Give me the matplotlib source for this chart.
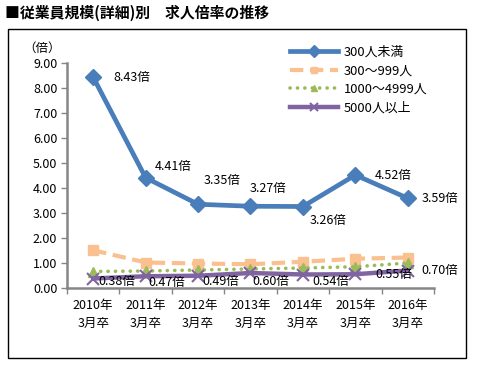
import matplotlib
matplotlib.use("Agg")
import matplotlib.pyplot as plt
from matplotlib.patches import Rectangle

plt.rcParams['font.family'] = ['Noto Sans CJK JP', 'DejaVu Sans']

years = ["2010年\n3月卒", "2011年\n3月卒", "2012年\n3月卒", "2013年\n3月卒",
         "2014年\n3月卒", "2015年\n3月卒", "2016年\n3月卒"]
s_lt300 = [8.43, 4.41, 3.35, 3.27, 3.26, 4.52, 3.59]
s_300_999 = [1.51, 1.02, 0.98, 0.95, 1.05, 1.17, 1.22]
s_1000_4999 = [0.66, 0.68, 0.72, 0.76, 0.80, 0.85, 1.00]
s_5000 = [0.38, 0.47, 0.49, 0.60, 0.54, 0.55, 0.70]
names = ["300人未満", "300～999人", "1000～4999人", "5000人以上"]
yticks = [0, 1, 2, 3, 4, 5, 6, 7, 8, 9]

W, H = 480, 369
fig = plt.figure(figsize=(W / 100, H / 100), dpi=100)
ax = fig.add_axes([67 / W, 1 - 288 / H, (434 - 67) / W, (288 - 63) / H])

x = list(range(len(years)))
c_blue = "#4A7EBB"
c_orange = "#FAC090"
c_green = "#9BBB59"
c_purple = "#8064A2"

l1, = ax.plot(x, s_lt300, color=c_blue, lw=3.4, marker="D", ms=8.5, zorder=5)
l2, = ax.plot(x, s_300_999, color=c_orange, lw=3.0, ls=(0, (3.2, 1.6)),
              marker="s", ms=6.5, zorder=3)
l3, = ax.plot(x, s_1000_4999, color=c_green, lw=2.6, ls=(0, (0.05, 2.0)),
              dash_capstyle="round", marker="^", ms=6.5, zorder=3)
l4, = ax.plot(x, s_5000, color=c_purple, lw=3.2, marker="x", ms=9, mew=1.5,
              zorder=4)

ax.set_xlim(-0.5, len(years) - 0.5)
ax.set_ylim(0, 9)
ax.set_yticks(yticks)
ax.set_yticklabels([f"{v:.2f}" for v in yticks], fontsize=9)
ax.set_xticks(x)
ax.set_xticklabels(years, fontsize=9, linespacing=1.5)
ax.set_xticks([i - 0.5 for i in range(len(years) + 1)], minor=True)
ax.tick_params(axis="x", which="major", length=0, pad=8)
ax.tick_params(axis="x", which="minor", length=4, color="#868686", width=1)
ax.tick_params(axis="y", length=4, color="#868686", width=1, pad=3)
for s in ["top", "right"]:
    ax.spines[s].set_visible(False)
for s in ["left", "bottom"]:
    ax.spines[s].set_color("#868686")
    ax.spines[s].set_linewidth(1.8)
ax.patch.set_alpha(0)

off_blue = [(20, 0), (9, 11), (6, 24), (-1, 18), (7, -14), (19, 0), (14, 0)]
for xi, v, (dx, dy) in zip(x, s_lt300, off_blue):
    ax.annotate(f"{v:.2f}倍", (xi, v), xytext=(dx, dy), textcoords="offset pixels",
                ha="left", va="center", fontsize=9, zorder=6)
off_purple = [(5, -3), (3, -6), (4, -6), (2, -8), (9, -7), (20, 0), (14, 0)]
for xi, v, (dx, dy) in zip(x, s_5000, off_purple):
    ax.annotate(f"{v:.2f}倍", (xi, v), xytext=(dx, dy), textcoords="offset pixels",
                ha="left", va="center", fontsize=9, zorder=6)

fig.text(42 / W, 1 - 48 / H, "（倍）", ha="center", va="center", fontsize=9)
fig.text(5 / W, 1 - 13 / H, "■従業員規模(詳細)別　求人倍率の推移", ha="left",
         va="center", fontsize=10.7, fontweight="bold")

fig.patches.append(Rectangle((8 / W, 1 - 358 / H), (466 - 8) / W, (358 - 29) / H,
                             transform=fig.transFigure, fill=False,
                             edgecolor="black", lw=1))

fig.legend([l1, l2, l3, l4], names, loc="upper left",
           bbox_to_anchor=(290 / W, 1 - 46 / H), frameon=False, fontsize=9.3,
           handlelength=3.7, handletextpad=0.45, labelspacing=0.42,
           markerscale=0.7, borderaxespad=0, borderpad=0)

fig.savefig("out.png", dpi=100)
